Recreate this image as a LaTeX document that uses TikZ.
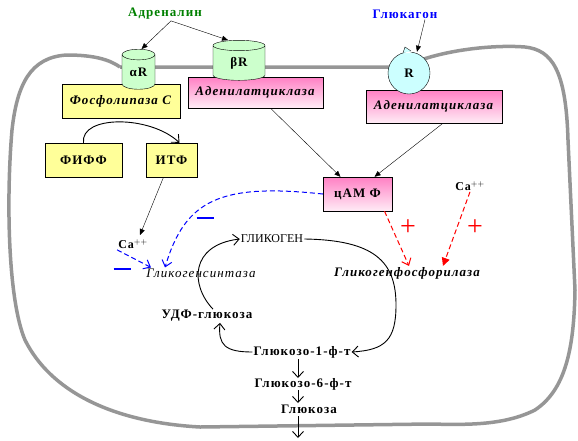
\documentclass[tikz,border=0pt]{standalone}
\usepackage{fontspec}
\setmainfont{Liberation Serif}[LetterSpace=8]
\newfontfamily\plainserif{Liberation Serif}
\usetikzlibrary{positioning,arrows.meta,shapes.geometric,calc}

\definecolor{membr}{RGB}{150,150,150}
\definecolor{boxyellow}{RGB}{255,255,153}
\definecolor{rgreen}{RGB}{204,255,204}
\definecolor{rcyan}{RGB}{204,255,255}
\definecolor{pinktop}{RGB}{255,128,196}
\definecolor{pinkbot}{RGB}{255,236,246}
\definecolor{adrgreen}{RGB}{0,128,0}

\begin{document}
\begin{tikzpicture}[
	x=1pt, y=-1pt,
	font=\fontsize{13}{15}\selectfont\bfseries,
	hormone/.style={font=\fontsize{13}{15}\selectfont\bfseries, inner sep=1pt},
	ybox/.style={draw, fill=boxyellow, inner sep=0pt},
	pbox/.style={draw, top color=pinktop, bottom color=pinkbot, inner sep=0pt},
	enzyme/.style={font=\fontsize{13}{15}\selectfont\itshape, inner sep=1pt},
	receptor/.style={
		draw, cylinder, shape border rotate=90, aspect=0.6,
		fill=rgreen, inner sep=0pt,
	},
	metab/.style={inner sep=1pt},
	thin arrow/.style={-{Triangle[length=6pt,width=5pt]}, thin},
	path arrow/.style={-{Straight Barb[length=6pt,width=11pt]}, line width=0.9pt},
	inhib/.style={blue, dash pattern=on 5pt off 3pt, line width=1pt,
		-{Straight Barb[length=6pt,width=10pt]}},
	activ/.style={red, dash pattern=on 5pt off 3pt, line width=1pt},
	minus sign/.style={blue, inner sep=0pt},
	plus sign/.style={red, font=\plainserif\fontsize{28}{28}\selectfont, inner sep=0pt},
]
\useasboundingbox (0,0) rectangle (578,440);

% membrane
\draw[membr, line width=3.5pt]
	(120,67) -- (400,67) -- (427,58)
	.. controls (460,48) and (500,45) .. (525,47)
	.. controls (552,50) and (566,70) .. (568,140)
	-- (575,290)
	.. controls (574,350) and (565,390) .. (535,410)
	.. controls (505,425) and (470,425) .. (430,424)
	-- (200,427)
	.. controls (110,422) and (50,390) .. (25,340)
	.. controls (8,300) and (6,200) .. (12,130)
	.. controls (17,85) and (30,57) .. (67,55)
	.. controls (95,55) and (110,60) .. (120,67);

% hormones and receptors
\node[hormone, text=adrgreen] (adr) at (165,14) {Адреналин};
\node[hormone, text=blue] (glu) at (405,14) {Глюкагон};

\node[ybox, minimum width=118, minimum height=34] (plc) at (121,101)
	{\textit{Фосфолипаза С}};
\node[pbox, minimum width=135, minimum height=31] (ac1) at (255.5,92.5)
	{\textit{Аденилатциклаза}};
\node[pbox, minimum width=136, minimum height=33] (ac2) at (434,106.5)
	{\textit{Аденилатциклаза}};

\node[receptor, minimum width=33, minimum height=40] (aR) at (138.5,72) {αR};
\node[receptor, minimum width=52, minimum height=40] (bR) at (239,63) {βR};

\node[draw, circle, fill=rcyan, minimum size=42, inner sep=0pt] (R) at (409,73) {R};
\fill[white] (404,53) -- (408,51) -- (412,53) -- cycle;
\draw[fill=rcyan] (403,53) -- (405,47) -- (411,51);

\draw[thin arrow] ([xshift=6]adr.south) -- ([xshift=3]aR.north);
\draw[thin arrow] ([xshift=6]adr.south) -- ([xshift=-11]bR.north);
\draw[thin arrow] ([xshift=20]glu.south) -- ([xshift=8]R.north);

% second messengers
\node[ybox, minimum width=77, minimum height=34] (fiff) at (83.5,160) {ФИФФ};
\node[ybox, minimum width=51, minimum height=34] (itf) at (171.5,160) {ИТФ};
\node[pbox, minimum width=69, minimum height=34] (camp) at (357.5,194) {цАМ Ф};

\draw[path arrow] (fiff.north) .. controls (80,115) and (150,115) .. ([xshift=8]itf.north);
\draw[thin arrow] ([xshift=-8]itf.south) -- (140,235);
\draw[thin arrow] ([xshift=15]ac1.south) -- ([xshift=-17]camp.north);
\draw[thin arrow] ([xshift=9]ac2.south) -- ([xshift=17]camp.north);

\node[metab, font=\fontsize{12}{14}\selectfont\bfseries] (ca1) at (133,244) {Ca$^{++}$};
\node[metab, font=\fontsize{12}{14}\selectfont\bfseries] (ca2) at (470,186) {Ca$^{++}$};

% glycogen cycle
\node[enzyme] (gs) at (201,273) {Гликогенсинтаза};
\node[enzyme, font=\fontsize{13}{15}\selectfont\bfseries\itshape] (gp) at (407,273) {Гликогенфосфорилаза};
\node[metab, font=\plainserif\fontsize{12}{14}\selectfont] (glyc) at (272,239) {ГЛИКОГЕН};
\node[metab] (udp) at (207,316) {УДФ-глюкоза};
\node[metab] (g1p) at (302,352) {Глюкозо-1-ф-т};
\node[metab] (g6p) at (303,384) {Глюкозо-6-ф-т};
\node[metab] (glc) at (309,409) {Глюкоза};
\coordinate (out) at (298,438);

\draw[path arrow] (glyc.east) .. controls (375,240) and (396,262) .. (396,305)
	.. controls (396,340) and (385,350) .. (g1p.east);
\draw[path arrow] (g1p.west) .. controls (225,352) and (218,345) .. ([xshift=13]udp.south);
\draw[path arrow] ([xshift=6]udp.north) .. controls (190,285) and (190,245) .. (glyc.west);
\draw[path arrow] (298,359) -- (298,378);
\draw[path arrow] (298,390) -- (298,403);
\draw[path arrow] (298,416) -- (out);

% regulation
\draw[inhib] (ca1.south west) -- ([xshift=-50]gs.north);
\draw[inhib] (camp.west) .. controls (220,183) and (185,200) .. ([xshift=-36]gs.north);
\draw[activ, -{Straight Barb[length=6pt,width=10pt]}] ([xshift=27]camp.south) -- ([xshift=2]gp.north);
\draw[activ, -{Triangle[length=8pt,width=8pt]}] (ca2.south) -- ([xshift=36]gp.north);

\node[minus sign] (m1) at (122,269) {\rule{17pt}{1.6pt}};
\node[minus sign] (m2) at (205,218) {\rule{17pt}{1.6pt}};
\node[plus sign] (p1) at (408,228) {+};
\node[plus sign] (p2) at (475,228) {+};
\end{tikzpicture}
\end{document}
